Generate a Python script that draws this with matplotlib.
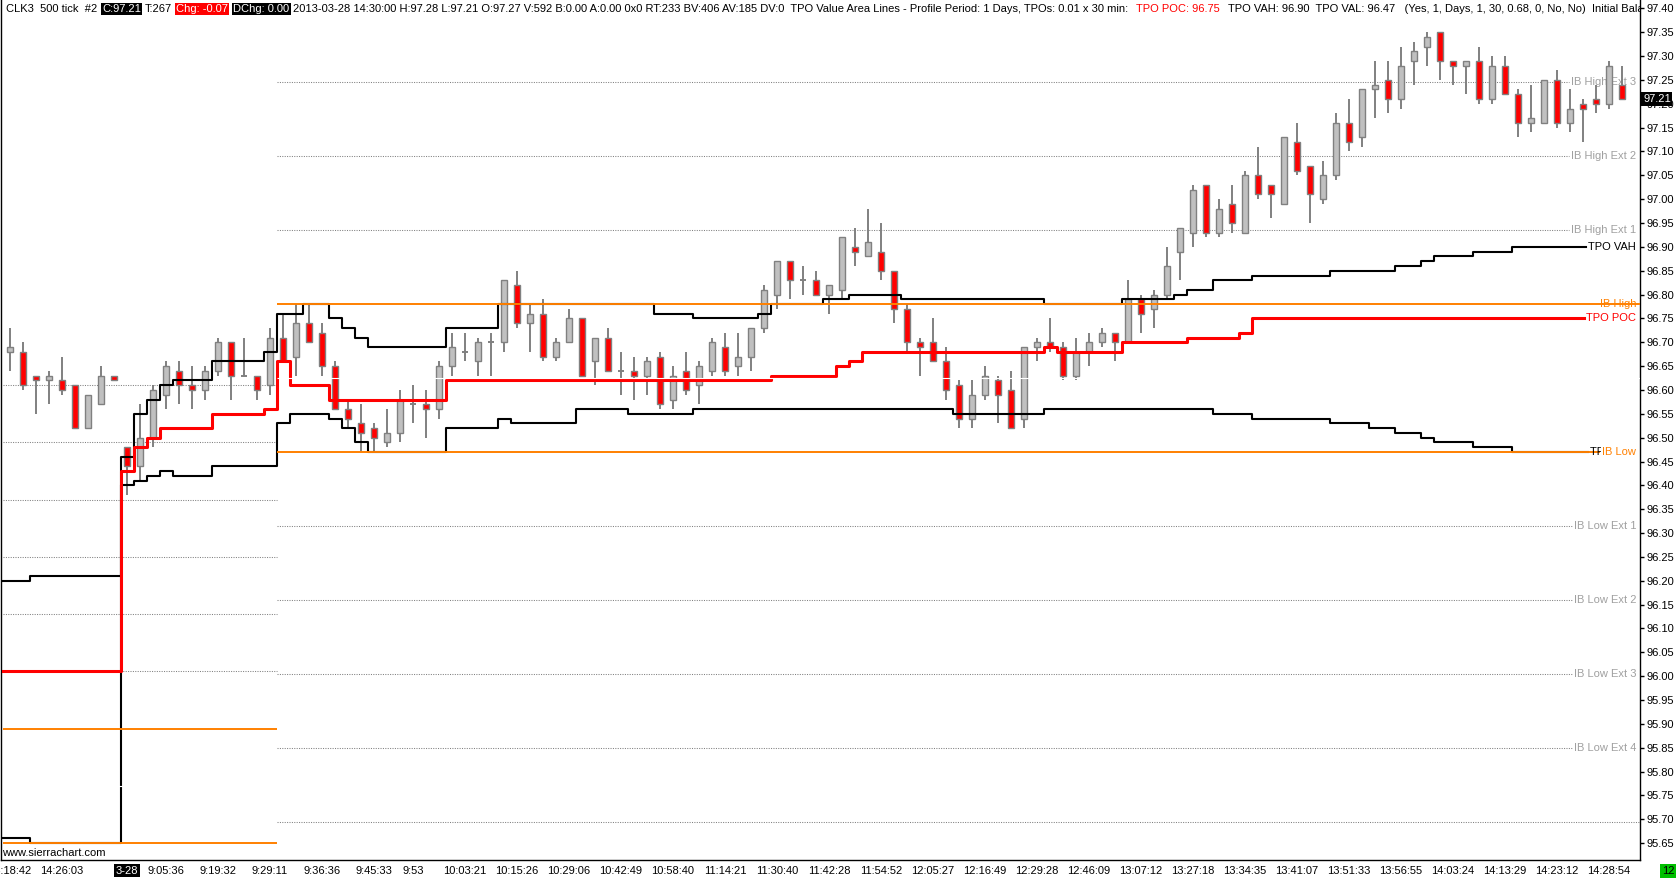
import matplotlib
matplotlib.use("Agg")
import matplotlib.pyplot as plt
import matplotlib.transforms as mtransforms
from matplotlib.patches import Rectangle
from matplotlib.ticker import MultipleLocator, FormatStrFormatter

plt.rcParams["font.family"] = ["Liberation Sans", "DejaVu Sans"]

# ---- price bars (one entry per bar, index = bar number) ----
opens = [96.68, 96.68, 96.63, 96.62, 96.62, 96.61, 96.52, 96.57, 96.63, 96.48,
         96.44, 96.50, 96.59, 96.64, 96.61, 96.60, 96.64, 96.70, 96.63, 96.63,
         96.61, 96.71, 96.67, 96.74, 96.72, 96.65, 96.56, 96.53, 96.52, 96.49,
         96.51, 96.57, 96.57, 96.56, 96.65, 96.68, 96.66, 96.70, 96.70, 96.82,
         96.74, 96.76, 96.67, 96.70, 96.75, 96.66, 96.71, 96.64, 96.64, 96.63,
         96.67, 96.58, 96.64, 96.61, 96.64, 96.69, 96.65, 96.67, 96.73, 96.80,
         96.87, 96.83, 96.83, 96.80, 96.81, 96.90, 96.88, 96.89, 96.85, 96.77,
         96.70, 96.70, 96.66, 96.61, 96.54, 96.59, 96.62, 96.60, 96.54, 96.69,
         96.70, 96.69, 96.63, 96.68, 96.70, 96.72, 96.70, 96.79, 96.77, 96.80,
         96.89, 96.93, 97.03, 96.93, 96.99, 96.93, 97.05, 97.03, 96.99, 97.12,
         97.07, 97.00, 97.05, 97.16, 97.13, 97.23, 97.25, 97.21, 97.29, 97.32,
         97.35, 97.29, 97.28, 97.29, 97.21, 97.28, 97.22, 97.16, 97.16, 97.25,
         97.16, 97.20, 97.21, 97.20, 97.24]
highs = [96.73, 96.70, 96.63, 96.64, 96.67, 96.61, 96.59, 96.65, 96.63, 96.48,
         96.57, 96.61, 96.66, 96.66, 96.65, 96.65, 96.71, 96.70, 96.71, 96.63,
         96.73, 96.76, 96.78, 96.78, 96.74, 96.66, 96.58, 96.57, 96.53, 96.56,
         96.60, 96.61, 96.60, 96.66, 96.72, 96.72, 96.71, 96.72, 96.83, 96.85,
         96.78, 96.79, 96.71, 96.77, 96.75, 96.71, 96.73, 96.68, 96.67, 96.67,
         96.68, 96.65, 96.68, 96.66, 96.71, 96.72, 96.72, 96.73, 96.82, 96.87,
         96.87, 96.86, 96.85, 96.82, 96.92, 96.94, 96.98, 96.95, 96.85, 96.78,
         96.71, 96.75, 96.69, 96.62, 96.62, 96.65, 96.63, 96.64, 96.69, 96.71,
         96.75, 96.70, 96.71, 96.72, 96.73, 96.72, 96.83, 96.80, 96.81, 96.90,
         96.94, 97.03, 97.03, 97.00, 97.03, 97.06, 97.11, 97.03, 97.13, 97.16,
         97.07, 97.08, 97.18, 97.21, 97.23, 97.29, 97.29, 97.32, 97.33, 97.35,
         97.35, 97.29, 97.29, 97.32, 97.30, 97.30, 97.23, 97.24, 97.25, 97.27,
         97.23, 97.21, 97.24, 97.29, 97.28]
lows = [96.64, 96.60, 96.55, 96.57, 96.59, 96.52, 96.52, 96.57, 96.62, 96.38,
        96.41, 96.48, 96.56, 96.57, 96.56, 96.58, 96.63, 96.58, 96.63, 96.58,
        96.59, 96.66, 96.63, 96.70, 96.63, 96.56, 96.52, 96.47, 96.47, 96.48,
        96.49, 96.53, 96.50, 96.54, 96.63, 96.66, 96.63, 96.63, 96.68, 96.73,
        96.68, 96.66, 96.66, 96.70, 96.63, 96.61, 96.64, 96.59, 96.58, 96.59,
        96.56, 96.56, 96.59, 96.57, 96.63, 96.63, 96.63, 96.64, 96.72, 96.77,
        96.79, 96.80, 96.80, 96.76, 96.79, 96.86, 96.88, 96.83, 96.74, 96.68,
        96.63, 96.66, 96.58, 96.52, 96.52, 96.58, 96.53, 96.52, 96.52, 96.66,
        96.68, 96.62, 96.62, 96.65, 96.69, 96.66, 96.70, 96.72, 96.73, 96.79,
        96.83, 96.90, 96.92, 96.92, 96.93, 96.93, 97.00, 96.96, 96.99, 97.05,
        96.95, 96.99, 97.04, 97.10, 97.11, 97.17, 97.18, 97.19, 97.24, 97.28,
        97.25, 97.24, 97.22, 97.20, 97.20, 97.22, 97.13, 97.14, 97.16, 97.15,
        97.14, 97.12, 97.18, 97.19, 97.21]
closes = [96.69, 96.61, 96.62, 96.63, 96.60, 96.52, 96.59, 96.63, 96.62, 96.44,
          96.50, 96.60, 96.65, 96.61, 96.60, 96.64, 96.70, 96.63, 96.63, 96.60,
          96.71, 96.66, 96.74, 96.70, 96.65, 96.56, 96.54, 96.51, 96.50, 96.51,
          96.58, 96.57, 96.56, 96.65, 96.69, 96.68, 96.70, 96.70, 96.83, 96.74,
          96.76, 96.67, 96.70, 96.75, 96.63, 96.71, 96.64, 96.64, 96.63, 96.66,
          96.57, 96.63, 96.60, 96.65, 96.70, 96.64, 96.67, 96.73, 96.81, 96.87,
          96.83, 96.83, 96.80, 96.82, 96.92, 96.89, 96.91, 96.85, 96.77, 96.70,
          96.69, 96.66, 96.60, 96.54, 96.59, 96.63, 96.59, 96.52, 96.69, 96.70,
          96.69, 96.63, 96.68, 96.70, 96.72, 96.70, 96.79, 96.76, 96.80, 96.86,
          96.94, 97.02, 96.93, 96.98, 96.95, 97.05, 97.01, 97.01, 97.13, 97.06,
          97.01, 97.05, 97.16, 97.12, 97.23, 97.24, 97.21, 97.28, 97.31, 97.34,
          97.29, 97.28, 97.29, 97.21, 97.28, 97.22, 97.16, 97.17, 97.25, 97.16,
          97.19, 97.19, 97.20, 97.28, 97.21]

# ---- TPO value area / POC: bar where each new value starts ----
vah_start = [0, 2, 9, 10, 11, 12, 13, 16, 20, 21, 23, 25, 26, 27, 28, 34, 38, 50,
             53, 58, 59, 63, 65, 69, 80, 86, 90, 91, 93, 96, 102, 107, 109, 110, 113, 116]
vah_vals = [96.20, 96.21, 96.46, 96.55, 96.58, 96.61, 96.62, 96.66, 96.68, 96.76,
            96.78, 96.75, 96.73, 96.71, 96.69, 96.73, 96.78, 96.76, 96.75, 96.76,
            96.78, 96.79, 96.80, 96.79, 96.78, 96.79, 96.80, 96.81, 96.83, 96.84,
            96.85, 96.86, 96.87, 96.88, 96.89, 96.90]
val_start = [0, 2, 9, 10, 11, 12, 13, 16, 21, 22, 25, 26, 27, 28, 34, 38, 39, 44,
             48, 53, 73, 80, 93, 96, 102, 105, 107, 109, 110, 113, 116]
val_vals = [95.66, 95.65, 96.40, 96.41, 96.42, 96.43, 96.42, 96.44, 96.53, 96.55,
            96.54, 96.52, 96.49, 96.47, 96.52, 96.54, 96.53, 96.56, 96.55, 96.56,
            96.55, 96.56, 96.55, 96.54, 96.53, 96.52, 96.51, 96.50, 96.49, 96.48, 96.47]
poc_start = [0, 9, 10, 11, 12, 16, 20, 21, 22, 25, 34, 59, 64, 65, 66, 80, 81, 86, 91, 95, 96]
poc_vals = [96.01, 96.43, 96.48, 96.50, 96.52, 96.55, 96.56, 96.66, 96.61, 96.58,
            96.62, 96.63, 96.65, 96.66, 96.68, 96.69, 96.68, 96.70, 96.71, 96.72, 96.75]

# ---- initial balance lines (previous day / current day) ----
prev_ib_high, prev_ib_low, prev_ib_mid = 95.89, 95.65, 95.77
prev_ib_ext = [96.01, 96.13, 96.25, 96.37, 96.49, 96.61]
ib_high, ib_low, ib_mid = 96.78, 96.47, 96.625
ib_high_ext = [96.935, 97.09, 97.245]
ib_high_ext_labels = ["IB High Ext 1", "IB High Ext 2", "IB High Ext 3"]
ib_low_ext = [96.315, 96.16, 96.005, 95.85, 95.695]
ib_low_ext_labels = ["IB Low Ext 1", "IB Low Ext 2", "IB Low Ext 3", "IB Low Ext 4", ""]
ib_split_bar = 20.5   # end of previous-day lines / start of today's IB lines

# ---- time axis ----
time_bars = [0, 4, 9, 12, 16, 20, 24, 28, 31, 35, 39, 43, 47, 51, 55, 59, 63, 67,
             71, 75, 79, 83, 87, 91, 95, 99, 103, 107, 111, 115, 119, 123]
time_labels = ["14:18:42", "14:26:03", "3-28", "9:05:36", "9:19:32", "9:29:11",
               "9:36:36", "9:45:33", "9:53", "10:03:21", "10:15:26", "10:29:06",
               "10:42:49", "10:58:40", "11:14:21", "11:30:40", "11:42:28", "11:54:52",
               "12:05:27", "12:16:49", "12:29:28", "12:46:09", "13:07:12", "13:27:18",
               "13:34:35", "13:41:07", "13:51:33", "13:56:55", "14:03:24", "14:13:29",
               "14:23:12", "14:28:54"]
last_price = 97.21

header_parts = ["CLK3  500 tick  #2", "C:97.21", "T:267", "Chg: -0.07", "DChg: 0.00",
                "2013-03-28 14:30:00 H:97.28 L:97.21 O:97.27 V:592 B:0.00 A:0.00 0x0 "
                "RT:233 BV:406 AV:185 DV:0  TPO Value Area Lines - Profile Period: 1 Days, "
                "TPOs: 0.01 x 30 min:",
                "TPO POC: 96.75",
                "TPO VAH: 96.90  TPO VAL: 96.47   (Yes, 1, Days, 1, 30, 0.68, 0, No, No)  "
                "Initial Balance Lines"]
header_fg = ["black", "white", "black", "white", "white", "black", "red", "black"]
header_bg = [None, "black", None, "red", "black", None, None, None]
header_gap = [0, 5, 4, 4, 5, 4, 8, 8]

GRAY, SILVER, RED, ORANGE = "#808080", "#c0c0c0", "#ff0000", "#ff8000"

# ---- geometry (pixels) ----
W, H = 1676, 880
AX_L, AX_R, AX_B = 1, 1640, 860
BAR0_PX, BAR_PX = 10, 13
P_REF, P_REF_PX, PX_PER_UNIT = 96.47, 452, 477

fig = plt.figure(figsize=(W / 100, H / 100), dpi=100, facecolor="white")
ax = fig.add_axes([AX_L / W, 1 - AX_B / H, (AX_R - AX_L) / W, AX_B / H])
ax.set_xlim((AX_L - BAR0_PX) / BAR_PX, (AX_R - BAR0_PX) / BAR_PX)
ax.set_ylim(P_REF - (AX_B - P_REF_PX) / PX_PER_UNIT, P_REF + P_REF_PX / PX_PER_UNIT)
x_end = ax.get_xlim()[1]
renderer = fig.canvas.get_renderer()

for side in ("top",):
    ax.spines[side].set_visible(False)
for side in ("left", "right", "bottom"):
    ax.spines[side].set_color("black")
    ax.spines[side].set_linewidth(1)

ax.yaxis.tick_right()
ax.yaxis.set_major_locator(MultipleLocator(0.05))
ax.yaxis.set_major_formatter(FormatStrFormatter("%.2f"))
ax.tick_params(axis="y", direction="out", length=3, width=1, pad=1.5, labelsize=8)
ax.set_xticks(time_bars)
ax.set_xticklabels(time_labels)
ax.tick_params(axis="x", length=0, pad=4, labelsize=8)
for lab in ax.get_xticklabels():
    if lab.get_text() == "3-28":
        lab.set_color("white")
        lab.set_bbox(dict(facecolor="black", edgecolor="none", boxstyle="square,pad=0.12"))

lab_tr = mtransforms.blended_transform_factory(ax.transAxes, ax.transData)
x_lab = (1636 - AX_L) / (AX_R - AX_L)


def right_label(y, text, color, zorder, **kw):
    t = ax.text(x_lab, y, text, transform=lab_tr, ha="right", va="center",
                fontsize=8, color=color, zorder=zorder, **kw)
    bb = t.get_window_extent(renderer)
    return ax.transData.inverted().transform((bb.x0 - 2, 0))[0]


# ---- previous day IB lines ----
x0 = -0.5
for y in prev_ib_ext:
    ax.hlines(y, x0, ib_split_bar, color=GRAY, lw=0.75, linestyles=(0, (1, 1.3)), zorder=1)
ax.hlines([prev_ib_high, prev_ib_low], x0, ib_split_bar, color=ORANGE, lw=1.4, zorder=5)
ax.hlines(prev_ib_mid, x0, ib_split_bar, color="white", lw=0.8, zorder=6)

# ---- current day IB extension lines ----
for y, txt in zip(ib_high_ext + ib_low_ext, ib_high_ext_labels + ib_low_ext_labels):
    xe = x_end
    if txt:
        xe = right_label(y, txt, "#a0a0a0", 1.5)
    ax.hlines(y, ib_split_bar, xe, color=GRAY, lw=0.75, linestyles=(0, (1, 1.3)), zorder=1)

# ---- candles ----
bw = 0.5
for i, (o, h, l, c) in enumerate(zip(opens, highs, lows, closes)):
    ax.vlines(i, l, h, color=GRAY, lw=1.4, zorder=2)
    if o == c:
        ax.hlines(o, i - bw / 2, i + bw / 2, color=GRAY, lw=1.4, zorder=3)
    else:
        ax.add_patch(Rectangle((i - bw / 2, min(o, c)), bw, abs(c - o),
                               facecolor=RED if c < o else SILVER,
                               edgecolor=GRAY, lw=1, zorder=3))

# ---- value area / POC step lines ----
vah_end = right_label(vah_vals[-1], "TPO VAH", "black", 7)
poc_end = right_label(poc_vals[-1], "TPO POC", RED, 7)
val_end = right_label(val_vals[-1], "TPO VAL", "black", 7)
for starts, vals, color, lw, xe in ((vah_start, vah_vals, "black", 1.5, vah_end),
                                    (val_start, val_vals, "black", 1.5, val_end),
                                    (poc_start, poc_vals, RED, 2.2, poc_end)):
    xs = [s - 0.5 for s in starts] + [xe]
    ys = list(vals) + [vals[-1]]
    ax.step(xs, ys, where="post", color=color, lw=lw, zorder=4)

# ---- current day IB high / low / mid ----
ib_low_end = right_label(ib_low, "IB Low", ORANGE, 8,
                         bbox=dict(facecolor="white", edgecolor="none",
                                   boxstyle="square,pad=0.08"))
right_label(ib_high, "IB High", ORANGE, 8)
ax.hlines(ib_high, ib_split_bar, x_end, color=ORANGE, lw=1.4, zorder=5)
ax.hlines(ib_low, ib_split_bar, ib_low_end, color=ORANGE, lw=1.4, zorder=5)
ax.hlines(ib_mid, ib_split_bar, x_end, color="white", lw=0.8, zorder=6)

# ---- last price box on the price scale ----
ax.text(1 + 3 / (AX_R - AX_L), last_price, f"{last_price:.2f}", transform=lab_tr,
        ha="left", va="center", fontsize=8, color="white", zorder=10, clip_on=False,
        bbox=dict(facecolor="black", edgecolor="none", boxstyle="square,pad=0.15"))

ax.text(2, H - 853, "www.sierrachart.com", transform=mtransforms.IdentityTransform(),
        ha="left", va="center", fontsize=8, color="black", zorder=9)

# ---- header line, segments placed one after another ----
x_px = 6
for txt, fg, bg, gap in zip(header_parts, header_fg, header_bg, header_gap):
    x_px += gap
    kw = {}
    if bg:
        kw["bbox"] = dict(facecolor=bg, edgecolor="none", boxstyle="square,pad=0.12")
    t = ax.text(x_px, H - 9, txt, transform=mtransforms.IdentityTransform(),
                ha="left", va="center", fontsize=8, color=fg, zorder=9, clip_on=True, **kw)
    x_px = t.get_window_extent(renderer).x1

fig.text(1668 / W, 1 - 871 / H, "12", ha="center", va="center", fontsize=8, color="black",
         bbox=dict(facecolor="#00c000", edgecolor="none", boxstyle="square,pad=0.2"))

fig.savefig("out.png", dpi=100, facecolor="white")
